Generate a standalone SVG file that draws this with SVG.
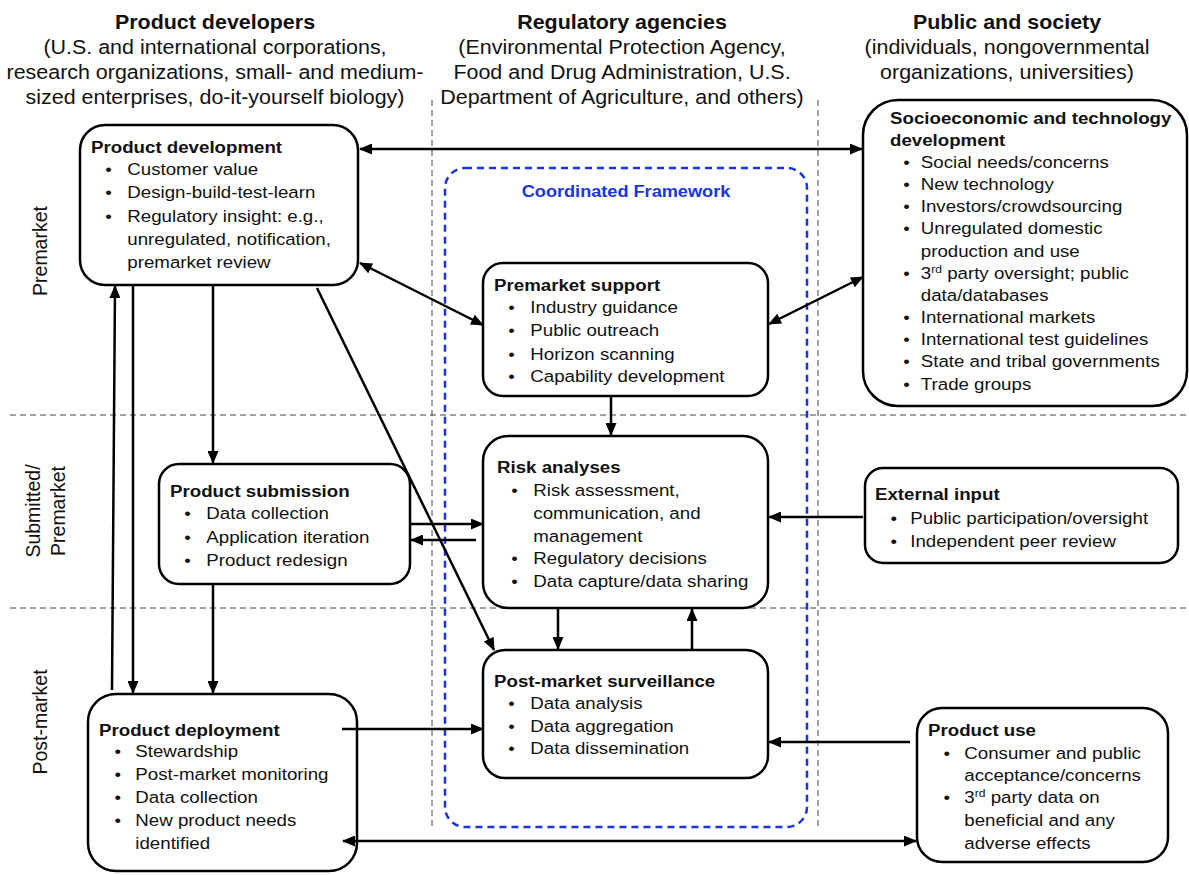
<svg xmlns="http://www.w3.org/2000/svg" width="1189" height="875" viewBox="0 0 1189 875">
<style>
.box{fill:#fff;stroke:#000;stroke-width:2.5}
text{font-family:"Liberation Sans",Arial,Helvetica,sans-serif;fill:#111}
.t{font-size:17px}
.h{font-size:19.5px}
.b{font-weight:bold}
.conn{stroke:#000;stroke-width:2.5;fill:none}
.grid{stroke:#444;stroke-width:1;stroke-dasharray:6 4;fill:none}
.cf{fill:none;stroke:#1a35e0;stroke-width:2.5;stroke-dasharray:7 5}
.sup{font-size:11px}
</style>
<defs>
<marker id="ah" viewBox="0 0 13 11" refX="12" refY="5.5" markerWidth="13" markerHeight="11" markerUnits="userSpaceOnUse" orient="auto-start-reverse">
<path d="M0,0 L13,5.5 L0,11 z" fill="#000"/>
</marker>
</defs>
<rect width="1189" height="875" fill="#fff"/>

<g id="headers">
<g transform="translate(215 0) scale(1.1 1)" text-anchor="middle" class="h">
<text x="0" y="29" class="b">Product developers</text>
<text x="0" y="54">(U.S. and international corporations,</text>
<text x="0" y="79">research organizations, small- and medium-</text>
<text x="0" y="104">sized enterprises, do-it-yourself biology)</text>
</g>
<g transform="translate(622 0) scale(1.1 1)" text-anchor="middle" class="h">
<text x="0" y="29" class="b">Regulatory agencies</text>
<text x="0" y="54">(Environmental Protection Agency,</text>
<text x="0" y="79">Food and Drug Administration, U.S.</text>
<text x="0" y="104">Department of Agriculture, and others)</text>
</g>
<g transform="translate(1007 0) scale(1.1 1)" text-anchor="middle" class="h">
<text x="0" y="29" class="b">Public and society</text>
<text x="0" y="54">(individuals, nongovernmental</text>
<text x="0" y="79">organizations, universities)</text>
</g>
</g>

<g id="phase-labels" class="h">
<text transform="translate(47 251) rotate(-90)" text-anchor="middle">Premarket</text>
<text transform="translate(40 511) rotate(-90)" text-anchor="middle">Submitted/</text>
<text transform="translate(65 511) rotate(-90)" text-anchor="middle">Premarket</text>
<text transform="translate(47 722) rotate(-90)" text-anchor="middle">Post-market</text>
</g>

<g id="gridlines">
<line class="grid" x1="432" y1="100" x2="432" y2="830"/>
<line class="grid" x1="818" y1="100" x2="818" y2="830"/>
<line class="grid" x1="10" y1="415" x2="1189" y2="415"/>
<line class="grid" x1="10" y1="608" x2="1189" y2="608"/>
</g>

<g id="coordinated-framework">
<rect class="cf" x="445" y="168" width="362" height="659" rx="20"/>
<g transform="translate(626 0) scale(1.1 1)" text-anchor="middle">
<text x="0" y="197" class="b" style="font-size:16.5px;fill:#1a35e0">Coordinated Framework</text>
</g>
</g>

<g id="product-development">
<rect class="box" x="80" y="125" width="278" height="160" rx="25"/>
<g transform="translate(91 0) scale(1.1 1)" class="t">
<text x="0" y="153" class="b">Product development</text>
<text x="13" y="175">•</text><text x="33" y="175">Customer value</text>
<text x="13" y="198">•</text><text x="33" y="198">Design-build-test-learn</text>
<text x="13" y="222">•</text><text x="33" y="222">Regulatory insight: e.g.,</text>
<text x="33" y="245">unregulated, notification,</text>
<text x="33" y="268">premarket review</text>
</g>
</g>

<g id="socioeconomic">
<rect class="box" x="863" y="100" width="324" height="306" rx="35"/>
<g transform="translate(890 0) scale(1.1 1)" class="t">
<text x="0" y="124" class="b">Socioeconomic and technology</text>
<text x="0" y="146" class="b">development</text>
<text x="12" y="168">•</text><text x="28" y="168">Social needs/concerns</text>
<text x="12" y="190">•</text><text x="28" y="190">New technology</text>
<text x="12" y="212">•</text><text x="28" y="212">Investors/crowdsourcing</text>
<text x="12" y="234">•</text><text x="28" y="234">Unregulated  domestic</text>
<text x="28" y="257">production and use</text>
<text x="12" y="279">•</text><text x="28" y="279">3<tspan class="sup" dy="-6">rd</tspan><tspan dy="6"> party oversight; public</tspan></text>
<text x="28" y="301">data/databases</text>
<text x="12" y="323">•</text><text x="28" y="323">International markets</text>
<text x="12" y="345">•</text><text x="28" y="345">International test guidelines</text>
<text x="12" y="367">•</text><text x="28" y="367">State and tribal governments</text>
<text x="12" y="390">•</text><text x="28" y="390">Trade groups</text>
</g>
</g>

<g id="premarket-support">
<rect class="box" x="483" y="263" width="285" height="133" rx="20"/>
<g transform="translate(494 0) scale(1.1 1)" class="t">
<text x="0" y="291" class="b">Premarket support</text>
<text x="13" y="313">•</text><text x="33" y="313">Industry guidance</text>
<text x="13" y="336">•</text><text x="33" y="336">Public outreach</text>
<text x="13" y="360">•</text><text x="33" y="360">Horizon scanning</text>
<text x="13" y="382">•</text><text x="33" y="382">Capability development</text>
</g>
</g>

<g id="risk-analyses">
<rect class="box" x="483" y="436" width="285" height="172" rx="25"/>
<g transform="translate(497 0) scale(1.1 1)" class="t">
<text x="0" y="473" class="b">Risk analyses</text>
<text x="13" y="496">•</text><text x="33" y="496">Risk assessment,</text>
<text x="33" y="519">communication,  and</text>
<text x="33" y="542">management</text>
<text x="13" y="564">•</text><text x="33" y="564">Regulatory decisions</text>
<text x="13" y="587">•</text><text x="33" y="587">Data capture/data sharing</text>
</g>
</g>

<g id="product-submission">
<rect class="box" x="159" y="464" width="251" height="120" rx="20"/>
<g transform="translate(170 0) scale(1.1 1)" class="t">
<text x="0" y="497" class="b">Product submission</text>
<text x="13" y="519">•</text><text x="33" y="519">Data collection</text>
<text x="13" y="543">•</text><text x="33" y="543">Application  iteration</text>
<text x="13" y="566">•</text><text x="33" y="566">Product redesign</text>
</g>
</g>

<g id="external-input">
<rect class="box" x="865" y="468" width="313" height="95" rx="18"/>
<g transform="translate(875 0) scale(1.1 1)" class="t">
<text x="0" y="500" class="b">External input</text>
<text x="14" y="524">•</text><text x="32" y="524">Public participation/oversight</text>
<text x="14" y="547">•</text><text x="32" y="547">Independent peer review</text>
</g>
</g>

<g id="post-market-surveillance">
<rect class="box" x="483" y="650" width="285" height="128" rx="22"/>
<g transform="translate(494 0) scale(1.1 1)" class="t">
<text x="0" y="687" class="b">Post-market surveillance</text>
<text x="13" y="709">•</text><text x="33" y="709">Data analysis</text>
<text x="13" y="732">•</text><text x="33" y="732">Data aggregation</text>
<text x="13" y="754">•</text><text x="33" y="754">Data dissemination</text>
</g>
</g>

<g id="product-deployment">
<rect class="box" x="88" y="694" width="269" height="177" rx="28"/>
<g transform="translate(99 0) scale(1.1 1)" class="t">
<text x="0" y="736" class="b">Product deployment</text>
<text x="14" y="757">•</text><text x="33" y="757">Stewardship</text>
<text x="14" y="780">•</text><text x="33" y="780">Post-market monitoring</text>
<text x="14" y="803">•</text><text x="33" y="803">Data collection</text>
<text x="14" y="826">•</text><text x="33" y="826">New product needs</text>
<text x="33" y="849">identified</text>
</g>
</g>

<g id="product-use">
<rect class="box" x="917" y="708" width="251" height="154" rx="25"/>
<g transform="translate(928 0) scale(1.1 1)" class="t">
<text x="0" y="736" class="b">Product use</text>
<text x="14" y="759">•</text><text x="33" y="759">Consumer  and  public</text>
<text x="33" y="781">acceptance/concerns</text>
<text x="14" y="803">•</text><text x="33" y="803">3<tspan class="sup" dy="-6">rd</tspan><tspan dy="6"> party data on</tspan></text>
<text x="33" y="826">beneficial and any</text>
<text x="33" y="849">adverse effects</text>
</g>
</g>

<g id="connectors">
<line class="conn" x1="360" y1="149" x2="862" y2="149" marker-start="url(#ah)" marker-end="url(#ah)"/>
<line class="conn" x1="360" y1="263" x2="483" y2="325" marker-start="url(#ah)" marker-end="url(#ah)"/>
<line class="conn" x1="863" y1="277" x2="769" y2="324" marker-start="url(#ah)" marker-end="url(#ah)"/>
<line class="conn" x1="213" y1="286" x2="213" y2="463" marker-end="url(#ah)"/>
<line class="conn" x1="317" y1="288" x2="494" y2="650" marker-end="url(#ah)"/>
<line class="conn" x1="133" y1="286" x2="133" y2="693" marker-end="url(#ah)"/>
<line class="conn" x1="112" y1="690" x2="115" y2="286" marker-end="url(#ah)"/>
<line class="conn" x1="213" y1="585" x2="213" y2="693" marker-end="url(#ah)"/>
<line class="conn" x1="411" y1="524" x2="483" y2="524" marker-end="url(#ah)"/>
<line class="conn" x1="476" y1="540" x2="411" y2="540" marker-end="url(#ah)"/>
<line class="conn" x1="611" y1="397" x2="611" y2="435" marker-end="url(#ah)"/>
<line class="conn" x1="558" y1="609" x2="558" y2="649" marker-end="url(#ah)"/>
<line class="conn" x1="692" y1="649" x2="692" y2="609" marker-end="url(#ah)"/>
<line class="conn" x1="863" y1="517" x2="769" y2="517" marker-end="url(#ah)"/>
<line class="conn" x1="342" y1="729" x2="483" y2="729" marker-end="url(#ah)"/>
<line class="conn" x1="910" y1="742" x2="769" y2="742" marker-end="url(#ah)"/>
<line class="conn" x1="343" y1="841" x2="916" y2="841" marker-start="url(#ah)" marker-end="url(#ah)"/>
</g>
</svg>
